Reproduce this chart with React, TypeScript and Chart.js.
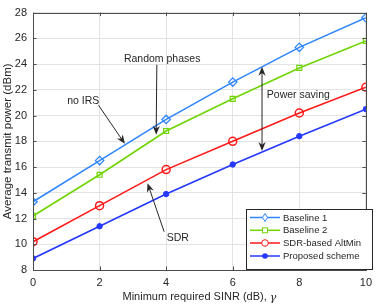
import React, { useEffect, useRef } from "react";
import { Chart, registerables } from "chart.js";
Chart.register(...registerables);

const xValues = [0, 2, 4, 6, 8, 10];
const baseline1 = [13.3, 16.5, 19.7, 22.6, 25.3, 27.6];
const baseline2 = [12.2, 15.4, 18.8, 21.3, 23.7, 25.8];
const sdrAltMin = [10.2, 13.0, 15.8, 18.0, 20.2, 22.2];
const proposed = [8.9, 11.4, 13.9, 16.2, 18.4, 20.5];
const seriesNames = ["Baseline 1", "Baseline 2", "SDR-based AltMin", "Proposed scheme"];
const colors = ["#2f86ff", "#6fd400", "#ff1a1a", "#2438ff"];
const xTicks = [0, 2, 4, 6, 8, 10];
const yTicks = [8, 10, 12, 14, 16, 18, 20, 22, 24, 26, 28];
const xTitleMain = "Minimum required SINR (dB), ";
const xTitleSymbol = "γ";

const FONT = "'Liberation Sans', Arial, sans-serif";
const TXT = "#262626";

function drawArrow(ctx: CanvasRenderingContext2D, x1: number, y1: number, x2: number, y2: number) {
  const ang = Math.atan2(y2 - y1, x2 - x1);
  const L = 9, W = 3.6;
  ctx.beginPath();
  ctx.moveTo(x1, y1);
  ctx.lineTo(x2 - Math.cos(ang) * L * 0.6, y2 - Math.sin(ang) * L * 0.6);
  ctx.stroke();
  ctx.beginPath();
  ctx.moveTo(x2, y2);
  const bx = x2 - Math.cos(ang) * L, by = y2 - Math.sin(ang) * L;
  ctx.lineTo(bx + Math.sin(ang) * W, by - Math.cos(ang) * W);
  ctx.lineTo(x2 - Math.cos(ang) * L * 0.7, y2 - Math.sin(ang) * L * 0.7);
  ctx.lineTo(bx - Math.sin(ang) * W, by + Math.cos(ang) * W);
  ctx.closePath();
  ctx.fill();
}

const overlay = {
  id: "overlay",
  afterDraw(chart: any) {
    const ctx: CanvasRenderingContext2D = chart.ctx;
    const xs = chart.scales.x, ys = chart.scales.y;
    const a = chart.chartArea;
    ctx.save();
    // box
    ctx.strokeStyle = "#4d4d4d";
    ctx.lineWidth = 1;
    ctx.strokeRect(Math.round(a.left) + 0.5, Math.round(a.top) + 0.5, Math.round(a.right - a.left), Math.round(a.bottom - a.top));
    // inner ticks
    ctx.beginPath();
    for (const t of xTicks) {
      const px = Math.round(xs.getPixelForValue(t)) + 0.5;
      ctx.moveTo(px, a.bottom); ctx.lineTo(px, a.bottom - 3.5);
      ctx.moveTo(px, a.top); ctx.lineTo(px, a.top + 3.5);
    }
    for (const t of yTicks) {
      const py = Math.round(ys.getPixelForValue(t)) + 0.5;
      ctx.moveTo(a.left, py); ctx.lineTo(a.left + 3.5, py);
      ctx.moveTo(a.right, py); ctx.lineTo(a.right - 3.5, py);
    }
    ctx.stroke();

    // x title with italic symbol
    ctx.fillStyle = TXT;
    ctx.textBaseline = "middle";
    ctx.textAlign = "left";
    ctx.font = `11px ${FONT}`;
    const w1 = ctx.measureText(xTitleMain).width;
    ctx.font = `italic 11px 'DejaVu Serif', serif`;
    const w2 = ctx.measureText(xTitleSymbol).width;
    const cxm = (a.left + a.right) / 2;
    const x0 = cxm - (w1 + w2) / 2;
    ctx.font = `11px ${FONT}`;
    ctx.fillText(xTitleMain, x0, 297);
    ctx.font = `italic 11px 'DejaVu Serif', serif`;
    ctx.fillText(xTitleSymbol, x0 + w1, 298);

    // annotations
    const P = (x: number, y: number) => [xs.getPixelForValue(x), ys.getPixelForValue(y)];
    ctx.strokeStyle = TXT;
    ctx.fillStyle = TXT;
    ctx.lineWidth = 1;
    let s = P(1.97, 20.8), e = P(2.76, 17.8);
    drawArrow(ctx, s[0], s[1], e[0], e[1]);
    s = P(3.72, 23.95); e = P(3.7, 18.5);
    drawArrow(ctx, s[0], s[1], e[0], e[1]);
    s = P(3.94, 10.97); e = P(3.44, 14.75);
    drawArrow(ctx, s[0], s[1], e[0], e[1]);
    const m = P(6.88, 20.5); const top = P(6.88, 23.8); const bot = P(6.88, 17.24);
    drawArrow(ctx, m[0], m[1], top[0], top[1]);
    drawArrow(ctx, m[0], m[1], bot[0], bot[1]);

    ctx.font = `10.5px ${FONT}`;
    ctx.textAlign = "center";
    ctx.textBaseline = "middle";
    let t = P(3.88, 24.35); ctx.fillText("Random phases", t[0], t[1]);
    t = P(1.51, 21.1); ctx.fillText("no IRS", t[0], t[1]);
    t = P(7.97, 21.6); ctx.fillText("Power saving", t[0], t[1]);
    t = P(4.35, 10.44); ctx.fillText("SDR", t[0], t[1]);

    // legend
    const lx = 246, ly = 209, lw = 126, lh = 60;
    ctx.fillStyle = "#ffffff";
    ctx.fillRect(lx, ly, lw, lh);
    ctx.strokeStyle = "#262626";
    ctx.strokeRect(lx + 0.5, ly + 0.5, lw, lh);
    const rows = [217.5, 230.3, 243, 256];
    ctx.textAlign = "left";
    chart.data.datasets.forEach((ds: any, i: number) => {
      const y = rows[i];
      ctx.strokeStyle = ds.borderColor;
      ctx.lineWidth = 1.5;
      ctx.beginPath(); ctx.moveTo(250, y); ctx.lineTo(280, y); ctx.stroke();
      const cx = 265;
      ctx.lineWidth = 1;
      if (i === 0) {
        ctx.beginPath();
        ctx.moveTo(cx, y - 4); ctx.lineTo(cx + 2.5, y); ctx.lineTo(cx, y + 4); ctx.lineTo(cx - 2.5, y); ctx.closePath();
        ctx.fillStyle = "#fff"; ctx.fill(); ctx.stroke();
      } else if (i === 1) {
        ctx.fillStyle = "#fff"; ctx.fillRect(cx - 2.5, y - 2.5, 5, 5); ctx.strokeRect(cx - 2.5, y - 2.5, 5, 5);
      } else if (i === 2) {
        ctx.beginPath(); ctx.arc(cx, y, 3.3, 0, Math.PI * 2); ctx.fillStyle = "#fff"; ctx.fill(); ctx.stroke();
      } else {
        ctx.beginPath(); ctx.arc(cx, y, 2.8, 0, Math.PI * 2); ctx.fillStyle = ds.borderColor; ctx.fill();
      }
      ctx.fillStyle = TXT;
      ctx.font = `9.5px ${FONT}`;
      ctx.fillText(ds.label, 283, y + 0.5);
    });
    ctx.restore();
  },
};

export default function App() {
  const ref = useRef<HTMLCanvasElement>(null);
  useEffect(() => {
    const mk = (i: number, data: number[], style: any, radius: number, fill: boolean, bw: number) => ({
      label: seriesNames[i],
      data: xValues.map((x, k) => ({ x, y: data[k] })),
      borderColor: colors[i],
      backgroundColor: fill ? colors[i] : "#ffffff",
      pointBorderColor: colors[i],
      pointBackgroundColor: fill ? colors[i] : "rgba(255,255,255,0)",
      pointStyle: style,
      pointRadius: radius,
      pointBorderWidth: bw,
      borderWidth: 1.6,
      tension: 0,
    });
    const chart = new Chart(ref.current!, {
      type: "line",
      data: {
        datasets: [
          mk(0, baseline1, "rectRot", 4.2, false, 1.3),
          mk(1, baseline2, "rect", 3.5, false, 1.2),
          mk(2, sdrAltMin, "circle", 4.0, false, 1.5),
          mk(3, proposed, "circle", 2.7, true, 1),
        ],
      },
      options: {
        animation: false,
        responsive: false,
        maintainAspectRatio: false,
        layout: { padding: { top: 5, right: 6, left: 0, bottom: 0 } },
        plugins: { legend: { display: false }, tooltip: { enabled: false } },
        scales: {
          x: {
            type: "linear",
            min: 0,
            max: 10,
            afterBuildTicks: (s: any) => { s.ticks = xTicks.map((v) => ({ value: v })); },
            afterFit: (s: any) => { s.height = 35; },
            grid: { color: "#e3e3e3", drawTicks: false },
            border: { display: false },
            ticks: { color: TXT, font: { family: FONT, size: 11 }, padding: 6 },
            title: { display: false },
          },
          y: {
            type: "linear",
            min: 8,
            max: 28,
            afterBuildTicks: (s: any) => { s.ticks = yTicks.map((v) => ({ value: v })); },
            afterFit: (s: any) => { s.width = 33; },
            grid: { color: "#e3e3e3", drawTicks: false },
            border: { display: false },
            ticks: { color: TXT, font: { family: FONT, size: 11 }, padding: 6 },
            title: {
              display: true,
              text: "Average transmit power (dBm)",
              color: TXT,
              font: { family: FONT, size: 11.5 },
              padding: { top: 1, bottom: 0 },
            },
          },
        },
      },
      plugins: [overlay],
    });
    return () => chart.destroy();
  }, []);
  return (
    <div style={{ position: "absolute", left: 0, top: 0, width: 378, height: 305, background: "#fff" }}>
      <canvas ref={ref} width={378} height={305} style={{ display: "block" }} />
    </div>
  );
}
